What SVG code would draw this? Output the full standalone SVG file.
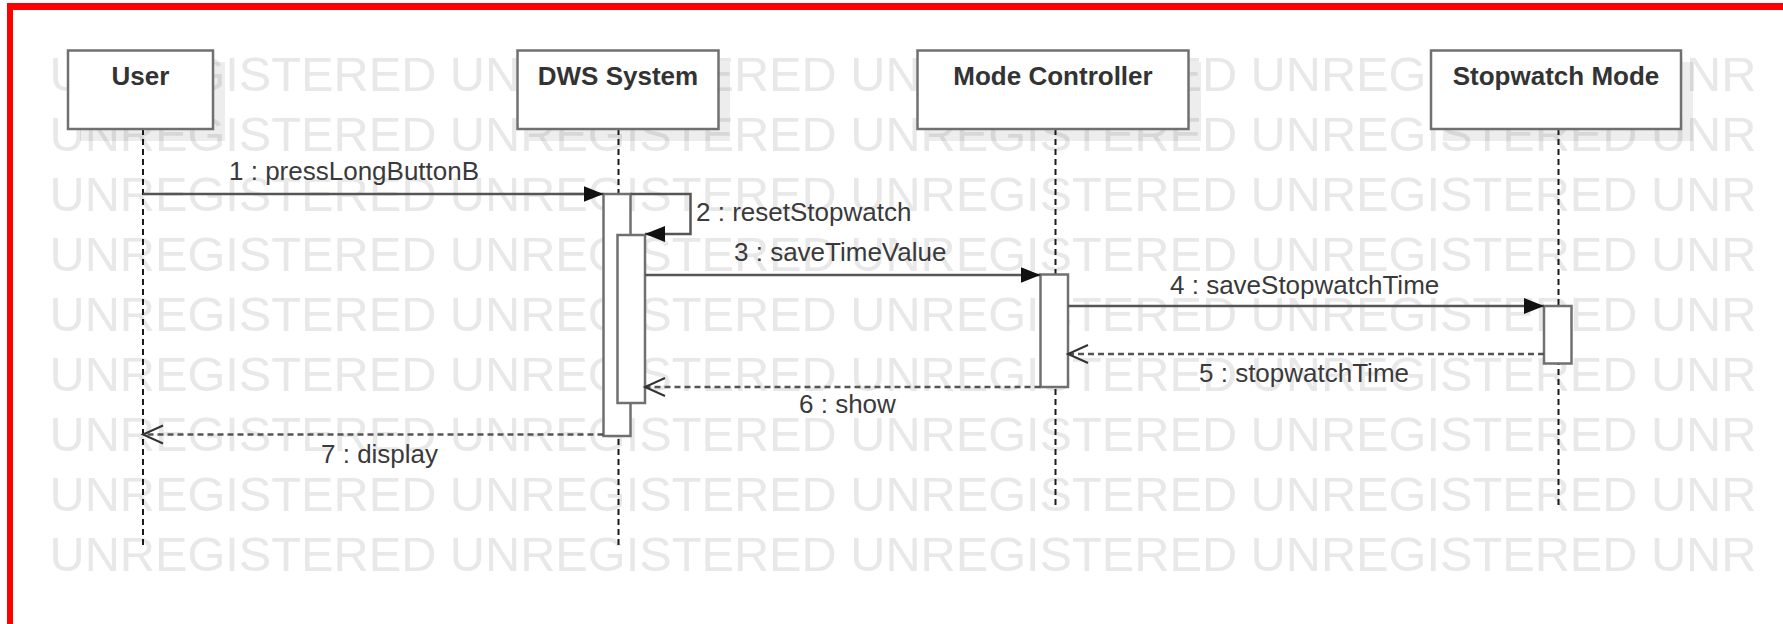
<svg xmlns="http://www.w3.org/2000/svg" width="1783" height="624" viewBox="0 0 1783 624">
<defs>
<style>
.wm{font-family:"Liberation Sans",Arial,sans-serif;font-size:48.7px;fill:#e8e8e8}
.box{fill:#fff;stroke:#707070;stroke-width:2.5}
.shadow{fill:#000;fill-opacity:0.07}
.title{font-family:"Liberation Sans",Arial,sans-serif;font-size:26px;font-weight:bold;fill:#333;text-anchor:middle}
.life{stroke:#1a1a1a;stroke-width:2;stroke-dasharray:6 4;fill:none}
.act{fill:#fff;stroke:#707070;stroke-width:2.5}
.msg{stroke:#555;stroke-width:2.5;fill:none}
.ret{stroke:#555;stroke-width:2.5;fill:none;stroke-dasharray:6 4}
.lbl{font-family:"Liberation Sans",Arial,sans-serif;font-size:26px;fill:#3a3a3a}
.red{fill:#ff0000}
</style>
<clipPath id="wmclip"><rect x="0" y="0" width="1760" height="624"/></clipPath>
<marker id="filled" markerUnits="userSpaceOnUse" markerWidth="21" markerHeight="18" refX="20" refY="8" orient="auto">
<path d="M0,0 L20,8 L0,16 z" fill="#111"/>
</marker>
<marker id="open" markerUnits="userSpaceOnUse" markerWidth="24" markerHeight="24" refX="21" refY="11" orient="auto">
<path d="M1,2 L21,11 L1,20" fill="none" stroke="#333" stroke-width="2" stroke-dasharray="none"/>
</marker>
</defs>
<rect width="1783" height="624" fill="#fff"/>
<g id="watermark" class="wm" clip-path="url(#wmclip)">
<text x="49.5" y="91">UNREGISTERED UNREGISTERED UNREGISTERED UNREGISTERED UNREGISTERED</text>
<text x="49.5" y="151">UNREGISTERED UNREGISTERED UNREGISTERED UNREGISTERED UNREGISTERED</text>
<text x="49.5" y="211">UNREGISTERED UNREGISTERED UNREGISTERED UNREGISTERED UNREGISTERED</text>
<text x="49.5" y="271">UNREGISTERED UNREGISTERED UNREGISTERED UNREGISTERED UNREGISTERED</text>
<text x="49.5" y="331">UNREGISTERED UNREGISTERED UNREGISTERED UNREGISTERED UNREGISTERED</text>
<text x="49.5" y="391">UNREGISTERED UNREGISTERED UNREGISTERED UNREGISTERED UNREGISTERED</text>
<text x="49.5" y="451">UNREGISTERED UNREGISTERED UNREGISTERED UNREGISTERED UNREGISTERED</text>
<text x="49.5" y="511">UNREGISTERED UNREGISTERED UNREGISTERED UNREGISTERED UNREGISTERED</text>
<text x="49.5" y="571">UNREGISTERED UNREGISTERED UNREGISTERED UNREGISTERED UNREGISTERED</text>
</g>
<g id="user">
<rect class="shadow" x="80" y="62" width="145" height="79"/>
<line class="life" x1="143" y1="129" x2="143" y2="545"/>
<rect class="box" x="68" y="50.5" width="145" height="78.5"/>
<text class="title" x="140.5" y="85">User</text>
</g>
<g id="dws">
<rect class="shadow" x="529" y="62" width="201" height="79"/>
<line class="life" x1="618.5" y1="129" x2="618.5" y2="546"/>
<rect class="box" x="517.5" y="50.5" width="201" height="78.5"/>
<text class="title" x="618" y="85">DWS System</text>
<rect class="act" x="603.5" y="194" width="27" height="242"/>
<rect class="act" x="617.5" y="235" width="27.5" height="168"/>
</g>
<g id="mode">
<rect class="shadow" x="929" y="62" width="272" height="79"/>
<line class="life" x1="1055.5" y1="129" x2="1055.5" y2="508"/>
<rect class="box" x="917.5" y="50.5" width="271" height="78.5"/>
<text class="title" x="1053" y="85">Mode Controller</text>
<rect class="act" x="1040.5" y="274.5" width="27.5" height="112.5"/>
</g>
<g id="stopwatch">
<rect class="shadow" x="1443" y="62" width="250" height="79"/>
<line class="life" x1="1558.5" y1="129" x2="1558.5" y2="508"/>
<rect class="box" x="1431" y="50.5" width="250" height="78.5"/>
<text class="title" x="1556" y="85">Stopwatch Mode</text>
<rect class="act" x="1544" y="306" width="27.5" height="57.5"/>
</g>
<g id="connectors">
<line class="msg" x1="143" y1="194" x2="603.5" y2="194" marker-end="url(#filled)"/>
<text class="lbl" x="229" y="180">1 : pressLongButtonB</text>
<path class="msg" d="M630.5,194 H690.5 V234 H645" marker-end="url(#filled)"/>
<text class="lbl" x="696" y="221">2 : resetStopwatch</text>
<line class="msg" x1="645" y1="275" x2="1040.5" y2="275" marker-end="url(#filled)"/>
<text class="lbl" x="734" y="261">3 : saveTimeValue</text>
<line class="msg" x1="1068" y1="306" x2="1544" y2="306" marker-end="url(#filled)"/>
<text class="lbl" x="1170" y="294">4 : saveStopwatchTime</text>
<line class="ret" x1="1544" y1="354" x2="1068" y2="354" marker-end="url(#open)"/>
<text class="lbl" x="1199" y="382">5 : stopwatchTime</text>
<line class="ret" x1="1040.5" y1="387" x2="645" y2="387" marker-end="url(#open)"/>
<text class="lbl" x="799" y="413">6 : show</text>
<line class="ret" x1="603.5" y1="434.5" x2="143" y2="434.5" marker-end="url(#open)"/>
<text class="lbl" x="321" y="463">7 : display</text>
</g>
<g id="frame">
<rect class="red" x="7" y="3" width="1776" height="7"/>
<rect class="red" x="7" y="3" width="6" height="621"/>
</g>
</svg>
